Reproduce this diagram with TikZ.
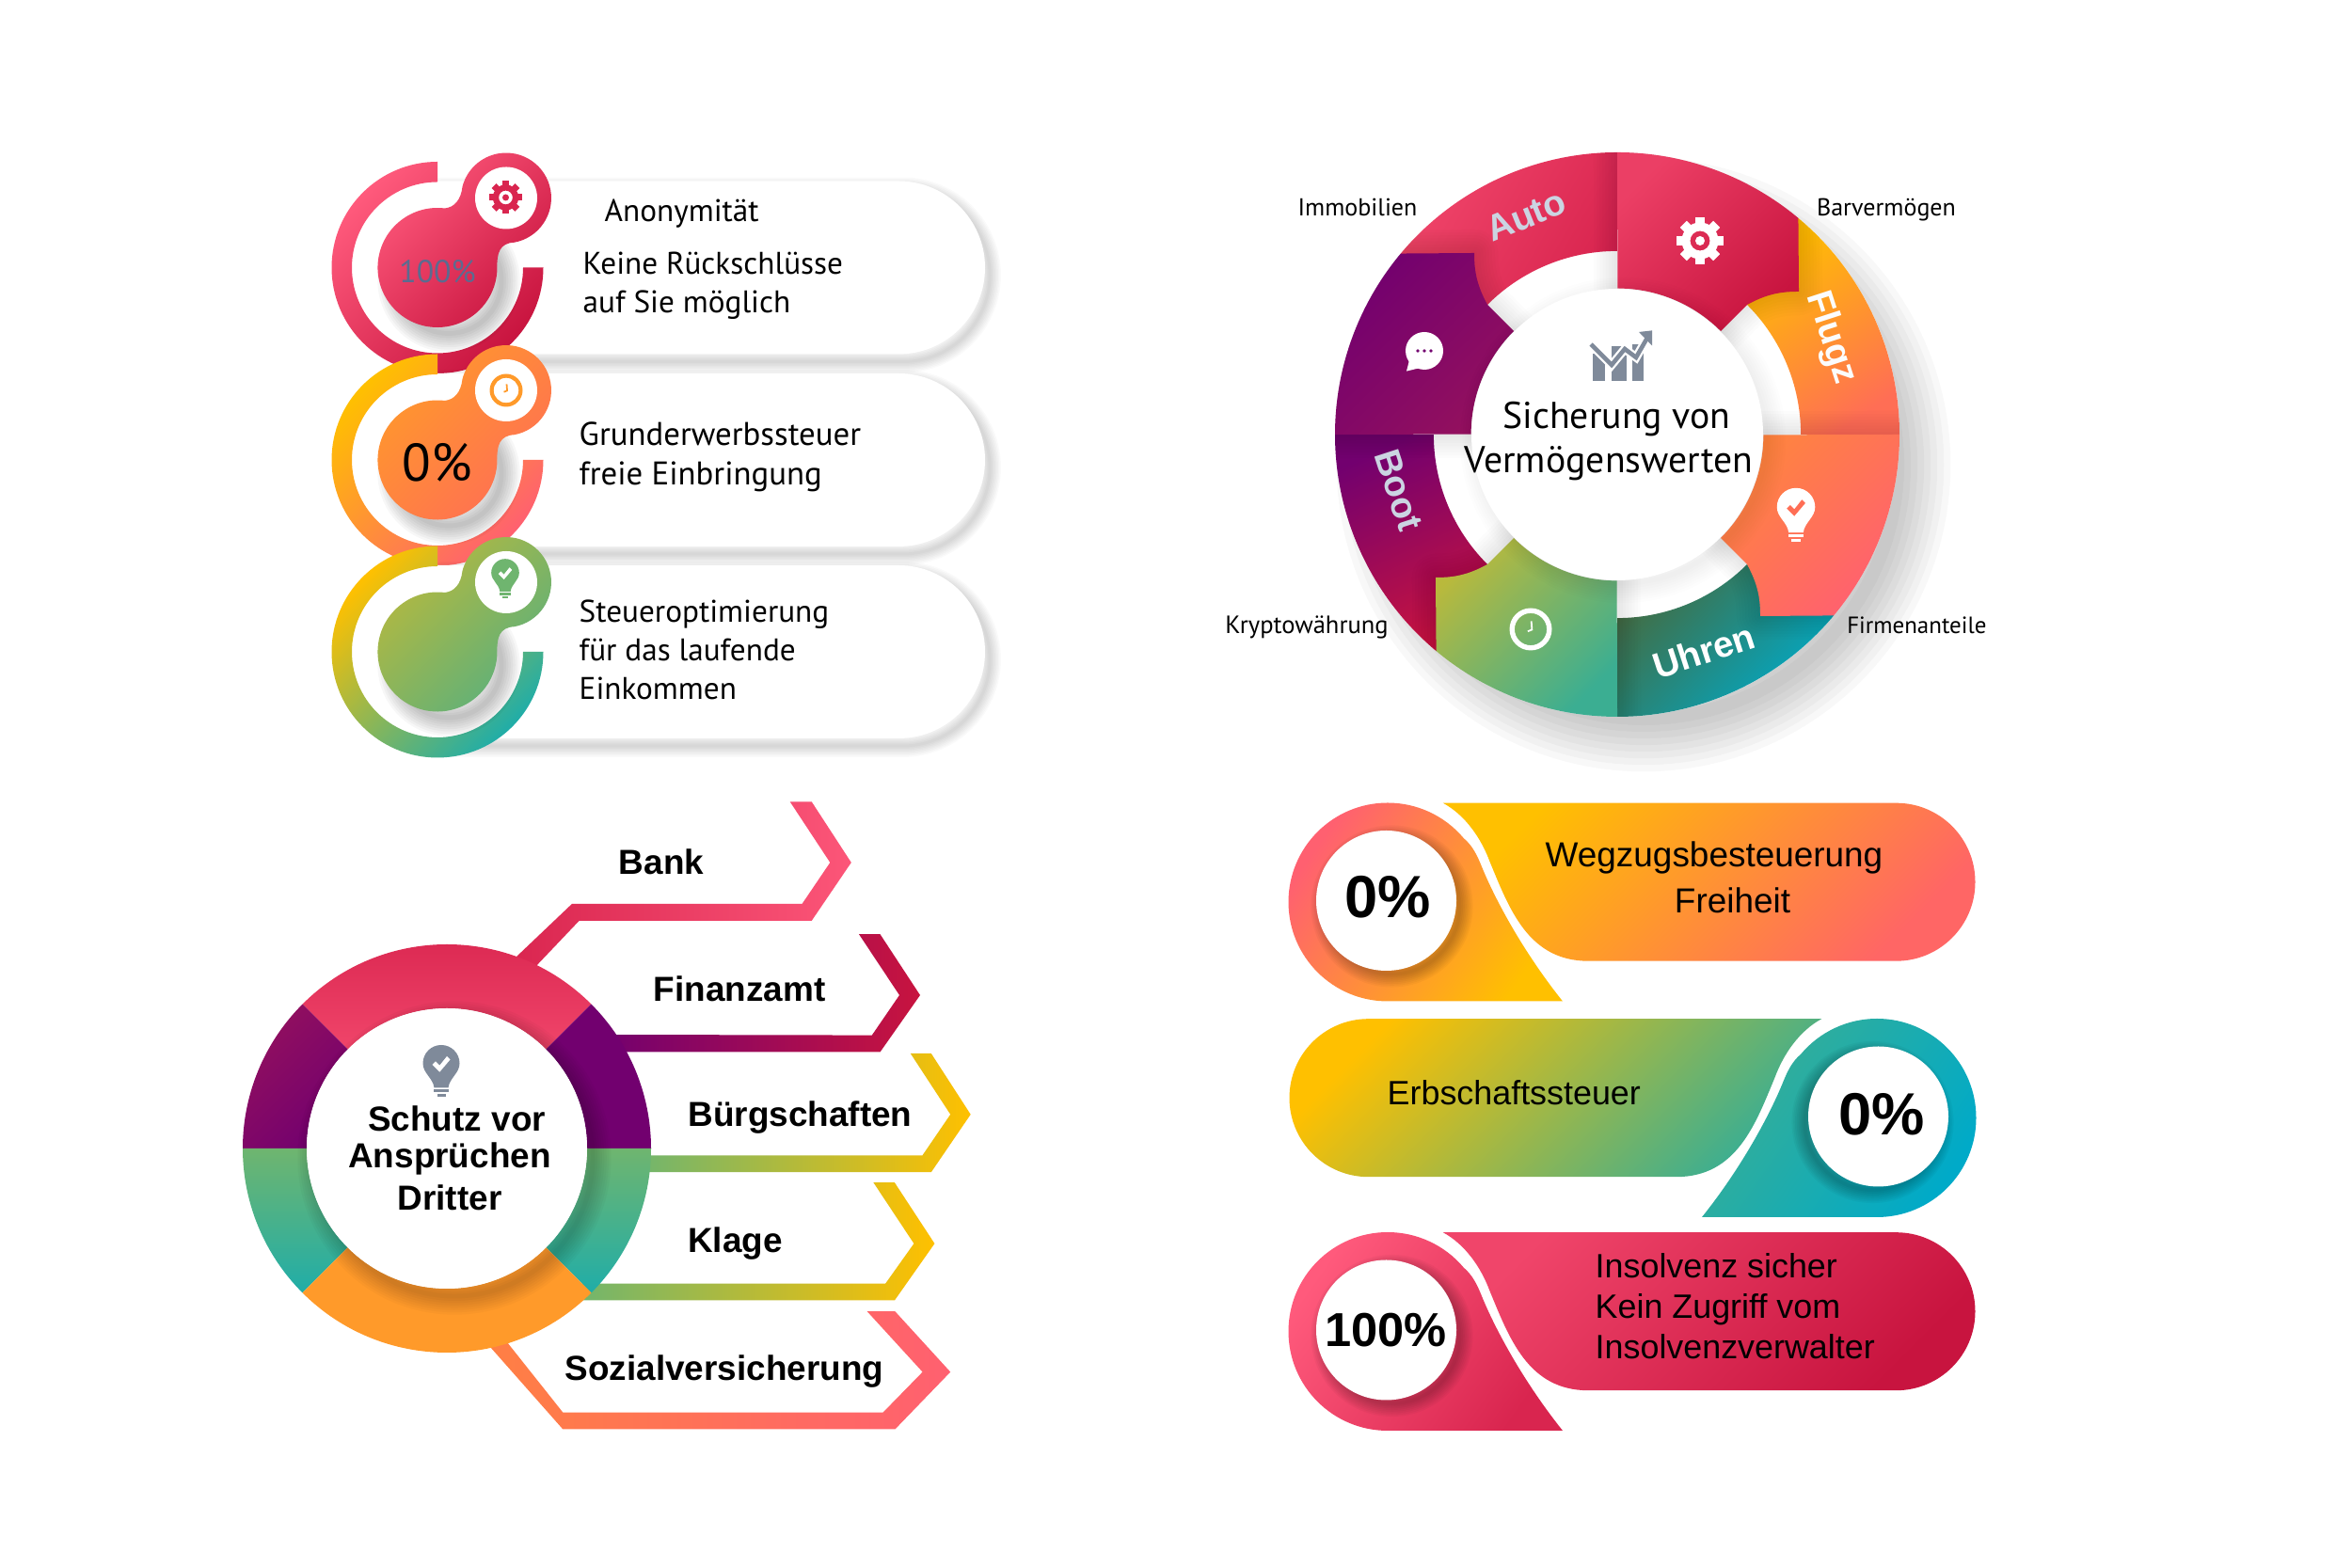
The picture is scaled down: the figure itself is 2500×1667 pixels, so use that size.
\documentclass[tikz,border=0pt]{standalone}
\usepackage{fontspec}
\setmainfont{Liberation Sans}
\newfontfamily\myriad{PT Sans}
\usetikzlibrary{calc}

\definecolor{redA}{HTML}{FF5A7C}
\definecolor{redB}{HTML}{C8143F}
\definecolor{redC}{HTML}{F0456A}
\definecolor{redD}{HTML}{D9254F}
\definecolor{yelA}{HTML}{FFC000}
\definecolor{salA}{HTML}{FF6070}
\definecolor{oraA}{HTML}{FF9A2A}
\definecolor{oraB}{HTML}{FF6E55}
\definecolor{oliA}{HTML}{B9B93C}
\definecolor{greA}{HTML}{6FB56F}
\definecolor{greB}{HTML}{58B07E}
\definecolor{teaA}{HTML}{20ADA8}
\definecolor{teaB}{HTML}{00AAC8}
\definecolor{teaC}{HTML}{3BAE92}
\definecolor{purA}{HTML}{72006F}
\definecolor{purB}{HTML}{93105E}
\definecolor{iconGray}{HTML}{7F8A9A}
\definecolor{softBlue}{HTML}{CBD4E2}
\definecolor{pctBlue}{HTML}{5B6B90}

\tikzset{
    grad/.style n args={3}{
        top color=#1,
        bottom color=#2,
        shading angle=#3
    },
    plain/.style={
        inner sep=0pt,
        align=left,
        anchor=west
    },
    myriadtext/.style={
        plain,
        font=\myriad\fontsize{9.45}{11.7}\selectfont
    },
    sidelabel/.style={
        inner sep=0pt,
        font=\myriad\fontsize{7.4}{9}\selectfont
    },
    ringtext/.style={
        inner sep=0pt,
        font=\bfseries\fontsize{11}{13}\selectfont
    },
    boldtext/.style={
        inner sep=0pt,
        font=\bfseries\fontsize{10.5}{12}\selectfont
    },
    bandtext/.style={
        plain,
        font=\fontsize{10.2}{12.2}\selectfont
    },
    pics/gearicon/.style={code={
        \foreach \a in {0,45,...,315}
            \fill[#1,rotate=\a] (-.2,.68) rectangle (.2,1);
        \fill[#1,even odd rule] (0,0) circle[radius=.78] circle[radius=.42] circle[radius=.2];
    }},
    pics/clockicon/.style={code={
        \fill[#1,even odd rule] (0,0) circle[radius=1] circle[radius=.76];
        \draw[#1,line width=.5pt] (.03,.38) -- (.06,-.02) -- (-.14,-.1);
    }},
    pics/bulbicon/.style 2 args={code={
        \fill[#1] (-.3,-.62) .. controls (-.35,-.2) and (-.78,0) .. (-.78,.42)
            arc[start angle=180,end angle=0,radius=.78]
            .. controls (.78,0) and (.35,-.2) .. (.3,-.62) -- cycle;
        \fill[#1] (-.32,-.7) rectangle (.32,-.82);
        \fill[#1] (-.18,-.88) rectangle (.18,-1);
        \fill[#2] (-.38,.36) -- (-.24,.5) -- (-.07,.33) -- (.24,.72) -- (.38,.58) -- (-.07,.05) -- cycle;
    }},
    pics/chaticon/.style 2 args={code={
        \fill[#1] (0,0) circle[radius=1];
        \fill[#1] (-.8,-.5) -- (-.95,-1.08) -- (-.2,-.9) -- cycle;
        \foreach \d in {-.35,0,.35}
            \fill[#2] (\d,0) circle[radius=.09];
    }}
}

% ring sector between two radii
\newcommand{\ringseg}[4]{(#1:#3) arc[start angle=#1,end angle=#2,radius=#3] -- (#2:#4) arc[start angle=#2,end angle=#1,radius=#4] -- cycle}
% stacked soft shadow: offset, opacity, step, path
\newcommand{\softshadow}[4]{
    \foreach \w in {1,...,8}
        \path[draw=black,line join=round,opacity=#2,line width=\w*#3,shift={#1}] #4;
}
% shapes of the top left rows
\newcommand{\pillrow}{(0,92) -- (490,92) arc[start angle=90,end angle=-90,radius=92] -- (0,-92) -- cycle}
\newcommand{\blobrow}{(7.7,63) arc[start angle=83,end angle=360,radius=63.5] .. controls (63,15) and (66,26) .. (81.3,26.7) arc[start angle=-80,end angle=165,radius=48] .. controls (25,72) and (18,64) .. cycle}
% shapes of the wheel
\newcommand{\wheelhead}{(0,300) arc[start angle=90,end angle=50.1,radius=300] -- (193,152) .. controls (175,152) and (160,150) .. (138,138) -- (110,110) arc[start angle=45,end angle=90,radius=155] -- cycle}
\newcommand{\wheelband}{(300,0) arc[start angle=0,end angle=50.1,radius=300] -- (138,138) arc[start angle=45,end angle=0,radius=195] -- cycle}
% shapes of the bottom right bands
\newcommand{\dropshape}{(0,-105.5) arc[start angle=270,end angle=40,radius=105.5] .. controls (90,60) and (95,50) .. (99.8,38) .. controls (114,3) and (144,-53) .. (186,-105.5) -- cycle}
\newcommand{\bandshape}{(58.8,105.3) -- (540.5,105.3) arc[start angle=90,end angle=-90,radius=84] -- (213.3,-62.7) .. controls (149,-62.7) and (129,-6.3) .. (108.6,42.7) .. controls (99,68.7) and (82,92.7) .. cycle}

\begin{document}
\begin{tikzpicture}[x=0.01cm,y=0.01cm]

    \useasboundingbox (0,0) rectangle (2500,1667);
    \fill[white] (0,0) rectangle (2500,1667);

    % Rows top left
    \foreach \rowy/\ringa/\ringb/\bloba/\blobb in {
        1382.5/redA/redB/redA/redB,
        1178/yelA/salA/oraA/oraB,
        974/yelA/teaA/oliA/greB}{
        \begin{scope}[shift={(465,\rowy)}]
            \begin{scope}
                \clip (0,-200) rectangle (700,200);
                \softshadow{(5,-8)}{0.018}{0.85pt}{\pillrow}
            \end{scope}
            \fill[white] \pillrow;
            \path[grad={\ringa}{\ringb}{45}] (0,112.5) arc[start angle=90,end angle=360,radius=112.5] -- (91,0) arc[start angle=360,end angle=90,radius=91] -- cycle;
            \softshadow{(12,-14)}{0.03}{1.4pt}{(0,0) circle[radius=56]}
            \path[grad={\bloba}{\blobb}{45}] \blobrow;
            \fill[white] (73,74) circle[radius=33];
        \end{scope}
    }
    \pic[scale=17.5] at (537.5,1457) {gearicon=redD};
    \pic[scale=17.5] at (538,1252) {clockicon=oraA};
    \pic[scale=19] at (537,1050) {bulbicon={greA}{white}};

    \node[inner sep=0pt,text=pctBlue,font=\myriad\fontsize{9.6}{11}\selectfont] (pctA) at (465,1378) {100\%};
    \node[inner sep=0pt,font=\myriad\fontsize{16}{18}\selectfont] (pctB) at (465,1175) {0\%};
    \node[myriadtext] (anon) at (642,1439.5) {Anonymität};
    \node[myriadtext] (keine) at (619,1363.5) {Keine Rückschlüsse\\auf Sie möglich};
    \node[myriadtext,font=\myriad\fontsize{9.9}{11.9}\selectfont] (grund) at (615,1181) {Grunderwerbssteuer\\freie Einbringung};
    \node[myriadtext] (steuer) at (615,976) {Steueroptimierung\\für das laufende\\Einkommen};

    % Wheel top right
    \begin{scope}[shift={(1719,1205)}]
        \softshadow{(28,-32)}{0.028}{4pt}{(0,0) circle[radius=270]}
        \fill[white] (0,0) circle[radius=300];
        \begin{scope}[rotate=0]  \path[grad={yelA}{oraB}{35}] \wheelband; \end{scope}
        \begin{scope}[rotate=90] \path[grad={redC}{redD}{60}] \wheelband; \end{scope}
        \begin{scope}[rotate=180]\path[grad={purA}{redB}{25}] \wheelband; \end{scope}
        \begin{scope}[rotate=-90]\path[grad={greA!60!black}{teaB}{45}] \wheelband; \end{scope}
        % Shadows of the heads
        \begin{scope}
            \clip (0,0) circle[radius=300];
            \foreach \rot in {0,-90,180,90}{
                \begin{scope}[rotate=\rot]
                    \softshadow{(0,0)}{0.012}{1.8pt}{\wheelhead}
                \end{scope}
            }
        \end{scope}
        \begin{scope}[rotate=0]  \path[grad={redC!80!redD}{redB}{45}] \wheelhead; \end{scope}
        \begin{scope}[rotate=-90]\path[grad={oraA!50!oraB}{salA}{45}] \wheelhead; \end{scope}
        \begin{scope}[rotate=180]\path[grad={oliA}{teaC}{45}] \wheelhead; \end{scope}
        \begin{scope}[rotate=90] \path[grad={purA}{purB}{45}] \wheelhead; \end{scope}
        \softshadow{(6,-6)}{0.008}{1.5pt}{(0,0) circle[radius=152]}
        \fill[white] (0,0) circle[radius=155];
    \end{scope}
    \pic[scale=25] at (1807,1411) {gearicon=white};
    \pic[scale=20] at (1514,1294) {chaticon={white}{purA}};
    \pic[scale=26] at (1909,1117) {bulbicon={white}{oraB}};
    \pic[scale=22.5] at (1627,998) {clockicon=white};

    % Chart icon
    \begin{scope}[shift={(1723,1289)}]
        \fill[iconGray] (-30,-27) rectangle (-17,2);
        \fill[iconGray] (-10,-27) rectangle (6,10);
        \fill[iconGray] (12,-27) rectangle (24,12);
        \draw[white,line width=2.6pt] (-32,12) -- (-10,-10) -- (4,7) -- (16,-2) -- (28,19);
        \draw[iconGray,line width=1.3pt] (-32,12) -- (-10,-10) -- (4,7) -- (16,-2) -- (28,19);
        \fill[iconGray] (19,25) -- (33,26.6) -- (33,10.5) -- cycle;
    \end{scope}

    \node[inner sep=0pt,font=\myriad\fontsize{11.3}{14}\selectfont] (wheelA) at (1718.5,1221) {Sicherung von};
    \node[inner sep=0pt,font=\myriad\fontsize{11.3}{14}\selectfont] (wheelB) at (1710,1174) {Vermögenswerten};
    \node[ringtext,text=softBlue,rotate=22] (auto) at (1622,1438) {Auto};
    \node[ringtext,text=white!92!softBlue,rotate=-72] (flugz) at (1946,1308) {Flugz};
    \node[ringtext,text=softBlue,rotate=-72] (boot) at (1487,1146) {Boot};
    \node[ringtext,text=white,rotate=18] (uhren) at (1811,975) {Uhren};
    \node[sidelabel] (immo) at (1443,1447) {Immobilien};
    \node[sidelabel] (bar) at (2005,1444) {Barvermögen};
    \node[sidelabel,font=\myriad\fontsize{7.55}{9}\selectfont] (krypto) at (1389,1000) {Kryptowährung};
    \node[sidelabel,font=\myriad\fontsize{7.1}{9}\selectfont] (firma) at (2037.4,1002) {Firmenanteile};

    % Arrows bottom left
    \begin{scope}[shift={(-1.5,0)}]
        \path[grad={redD}{redA!80!redC}{90}] (841.3,814.5) -- (864.3,814.5) -- (906.3,750) -- (864.3,688.2) -- (617.2,688.2) -- (560,628) -- (540,640) -- (609.5,706.1) -- (854.1,706.1) -- (883.8,750) -- cycle;
        \path[grad={purA}{redB}{90}] (914.5,673.8) -- (937,673.8) -- (979.5,609) -- (937,548.5) -- (650,548.5) -- (640,567) -- (928.3,566.4) -- (957.5,609) -- cycle;
        \path[grad={greA}{yelA}{90}] (969.3,547) -- (991.3,547) -- (1033.2,482.2) -- (991.3,420.8) -- (675,420.8) -- (675,438.7) -- (982,438.7) -- (1011.7,482.2) -- cycle;
        \path[grad={greA}{yelA}{90},shift={(0,1.5)}] (929.9,408.3) -- (952.4,408.3) -- (994.9,343.4) -- (952.4,283) -- (610,283) -- (620,300.8) -- (942.6,300.8) -- (972.9,343.4) -- cycle;
        \path[grad={oraA!40!oraB}{salA}{90},shift={(0,2.5)}] (923.2,270.3) -- (952.9,270.3) -- (1011.7,205.9) -- (952.9,145) -- (599.8,145) -- (515,241) -- (533,247) -- (599.8,162.9) -- (940.1,162.9) -- (982.1,205.9) -- cycle;
    \end{scope}

    % Ring bottom left
    \begin{scope}[shift={(475,446)}]
        \foreach \sa/\sb/\ca/\cb/\ang in {
            45/135/redD/redC/0,
            0/45/purA/purA/0,
            135/180/purB/purA/45,
            180/225/greA/teaA/0,
            315/360/greA/teaA/0,
            225/315/oraA/oraA/0}
            \path[grad={\ca}{\cb}{\ang}] \ringseg{\sa}{\sb}{217}{149};
        \softshadow{(8,-10)}{0.025}{1.4pt}{(0,0) circle[radius=147]}
        \fill[white] (0,0) circle[radius=149];
    \end{scope}
    \pic[scale=25] at (469,526) {bulbicon={iconGray}{white}};
    \node[boldtext] (schutzA) at (485.6,478) {Schutz vor};
    \node[boldtext] (schutzB) at (478,435) {Ansprüchen};
    \node[boldtext] (schutzC) at (478,393.5) {Dritter};
    \node[boldtext] (bank) at (703,751) {Bank};
    \node[boldtext] (finanz) at (786,616) {Finanzamt};
    \node[boldtext] (buerg) at (850.5,479) {Bürgschaften};
    \node[boldtext] (klage) at (781.5,345) {Klage};
    \node[boldtext] (sozial) at (770,208.5) {Sozialversicherung};

    % Bands bottom right
    \foreach \bx/\by/\flip/\pa/\pb/\da/\db in {
        1475/708/1/yelA/salA!60!oraB/salA/yelA,
        1995/478.5/-1/yelA/teaC/teaC/teaB,
        1475/251.5/1/redC/redB/redA/redD}{
        \begin{scope}[shift={(\bx,\by)},xscale=\flip]
            \path[grad={\pa}{\pb}{45}] \bandshape;
            \path[grad={\da}{\db}{55}] \dropshape;
            \softshadow{(6,-6)}{0.03}{1pt}{(-1.5,1.5) circle[radius=72]}
            \fill[white] (-1.5,1.5) circle[radius=74.5];
        \end{scope}
    }
    \node[inner sep=0pt,font=\bfseries\fontsize{18}{20}\selectfont] (zeroA) at (1475,713.5) {0\%};
    \node[inner sep=0pt,font=\bfseries\fontsize{18}{20}\selectfont] (zeroB) at (2000,482.5) {0\%};
    \node[inner sep=0pt,font=\bfseries\fontsize{14.4}{16}\selectfont] (hundred) at (1473,253) {100\%};
    \node[inner sep=0pt,font=\fontsize{10.5}{12}\selectfont] (weg) at (1822,754.6) {Wegzugsbesteuerung};
    \node[inner sep=0pt,font=\fontsize{10.5}{12}\selectfont] (frei) at (1841.5,709.7) {Freiheit};
    \node[bandtext] (erb) at (1474,505) {Erbschaftssteuer};
    \node[bandtext] (insol) at (1695,278) {Insolvenz sicher\\Kein Zugriff vom\\Insolvenzverwalter};

\end{tikzpicture}
\end{document}
